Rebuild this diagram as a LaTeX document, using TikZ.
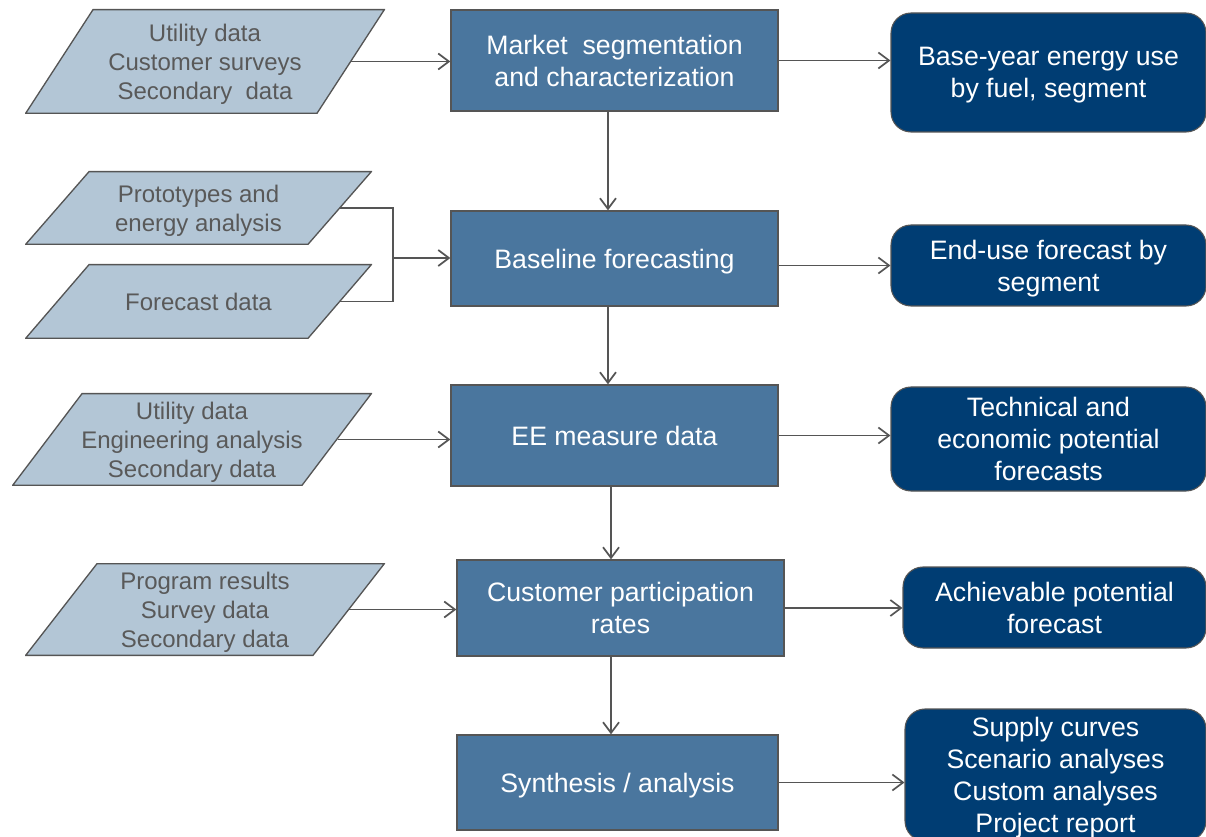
\documentclass[tikz,border=0pt]{standalone}
\usepackage{fontspec}
\setmainfont{Liberation Sans}
\usepackage{xcolor}
\usetikzlibrary{arrows.meta}

\definecolor{inputfill}{RGB}{179,198,214}
\definecolor{stepfill}{RGB}{74,118,158}
\definecolor{resultfill}{RGB}{0,61,115}
\definecolor{linegray}{RGB}{85,85,85}
\definecolor{textgray}{RGB}{89,89,89}

\begin{document}
\begin{tikzpicture}[
    x=0.75pt, y=-0.75pt,
    datanode/.style={inner sep=0pt, align=center, text=textgray, text depth=0pt,
        font=\fontsize{18pt}{21.75pt}\selectfont,
        path picture={\filldraw[fill=inputfill, draw=linegray, line width=1pt]
            ([shift={(#1,-0.5pt)}]path picture bounding box.north west) --
            ([shift={(-0.5pt,-0.5pt)}]path picture bounding box.north east) --
            ([shift={(-#1,0.5pt)}]path picture bounding box.south east) --
            ([shift={(0.5pt,0.5pt)}]path picture bounding box.south west) -- cycle;}},
    stepbox/.style={draw=linegray, line width=1pt, fill=stepfill, text=white, text depth=0pt,
        inner sep=0pt, align=center, font=\fontsize{20pt}{24pt}\selectfont},
    resultbox/.style={draw=linegray, line width=0.8pt, fill=resultfill, rounded corners=15pt,
        text=white, text depth=0pt, inner sep=0pt, align=center, font=\fontsize{20pt}{24pt}\selectfont},
    link/.style={linegray, line width=1.3pt},
    flow/.style={link, -{Straight Barb[length=8pt, width=12pt]}}
]
\useasboundingbox (0,0) rectangle (1206,837);

% input data
\node[datanode=51pt, minimum width=270pt, minimum height=78.75pt] (in1) at (205, 61.5)
  {Utility data\\Customer surveys\\Secondary~ data};
\node[datanode=48pt, minimum width=260.25pt, minimum height=55.5pt] (in2) at (198.5, 208)
  {Prototypes and\\energy analysis};
\node[datanode=48pt, minimum width=260.25pt, minimum height=56.25pt] (in3) at (198.5, 301.5)
  {Forecast data};
\node[datanode=52.5pt, minimum width=270pt, minimum height=69.75pt] (in4) at (192, 439.5)
  {Utility data\\Engineering analysis\\Secondary data};
\node[datanode=54pt, minimum width=270pt, minimum height=69.75pt] (in5) at (205, 609.5)
  {Program results\\Survey data\\Secondary data};

% process steps
\node[stepbox, minimum width=245.25pt, minimum height=75.75pt] (A) at (614.5, 60.5)
  {Market~ segmentation\\and characterization};
\node[stepbox, minimum width=245.25pt, minimum height=71.25pt] (B) at (614.5, 258.5)
  {Baseline forecasting};
\node[stepbox, minimum width=245.25pt, minimum height=75.75pt] (C) at (614.5, 435.5)
  {EE measure data};
\node[stepbox, minimum width=245.25pt, minimum height=72pt] (D) at (620.5, 608)
  {Customer participation\\rates};
\node[stepbox, minimum width=240.75pt, minimum height=71.25pt] (E) at (617.5, 782.5)
  {Synthesis / analysis};

% results
\node[resultbox, minimum width=236.25pt, minimum height=89.25pt] (o1) at (1048.5, 72.5)
  {Base-year energy use\\by fuel, segment};
\node[resultbox, minimum width=236.25pt, minimum height=60.75pt] (o2) at (1048.5, 265.5)
  {End-use forecast by\\segment};
\node[resultbox, minimum width=236.25pt, minimum height=78pt] (o3) at (1048.5, 439)
  {Technical and\\economic potential\\forecasts};
\node[resultbox, minimum width=227.25pt, minimum height=60.75pt] (o4) at (1054.5, 607.5)
  {Achievable potential\\forecast};
\node[resultbox, minimum width=225.75pt, minimum height=99pt] (o5) at (1055.5, 775)
  {Supply curves\\Scenario analyses\\Custom analyses\\Project report};

% inputs into steps
\draw[flow] ([xshift=-25.5pt]in1.east) -- (in1.east -| A.west);
\coordinate (join) at (393, 258);
\draw[link] ([xshift=-24pt]in2.east) -| (join);
\draw[link] ([xshift=-24pt]in3.east) -| (join);
\draw[flow] (join) -- (join -| B.west);
\draw[flow] ([xshift=-26pt]in4.east) -- (in4.east -| C.west);
\draw[flow] ([xshift=-27pt]in5.east) -- (in5.east -| D.west);

% step chain
\draw[flow] ([xshift=-4.9pt]A.south) -- ([xshift=-4.9pt]A.south |- B.north);
\draw[flow] ([xshift=-4.9pt]B.south) -- ([xshift=-4.9pt]B.south |- C.north);
\draw[flow] ([xshift=-2.6pt]C.south) -- ([xshift=-2.6pt]C.south |- D.north);
\draw[flow] ([xshift=-7.1pt]D.south) -- ([xshift=-7.1pt]D.south |- E.north);

% steps into results
\draw[flow] (A.east) -- (A.east -| o1.west);
\draw[flow] (B.east |- o2.west) -- (o2.west);
\draw[flow] (C.east) -- (C.east -| o3.west);
\draw[flow] (D.east) -- (D.east -| o4.west);
\draw[flow] (E.east) -- (E.east -| o5.west);

\end{tikzpicture}
\end{document}
